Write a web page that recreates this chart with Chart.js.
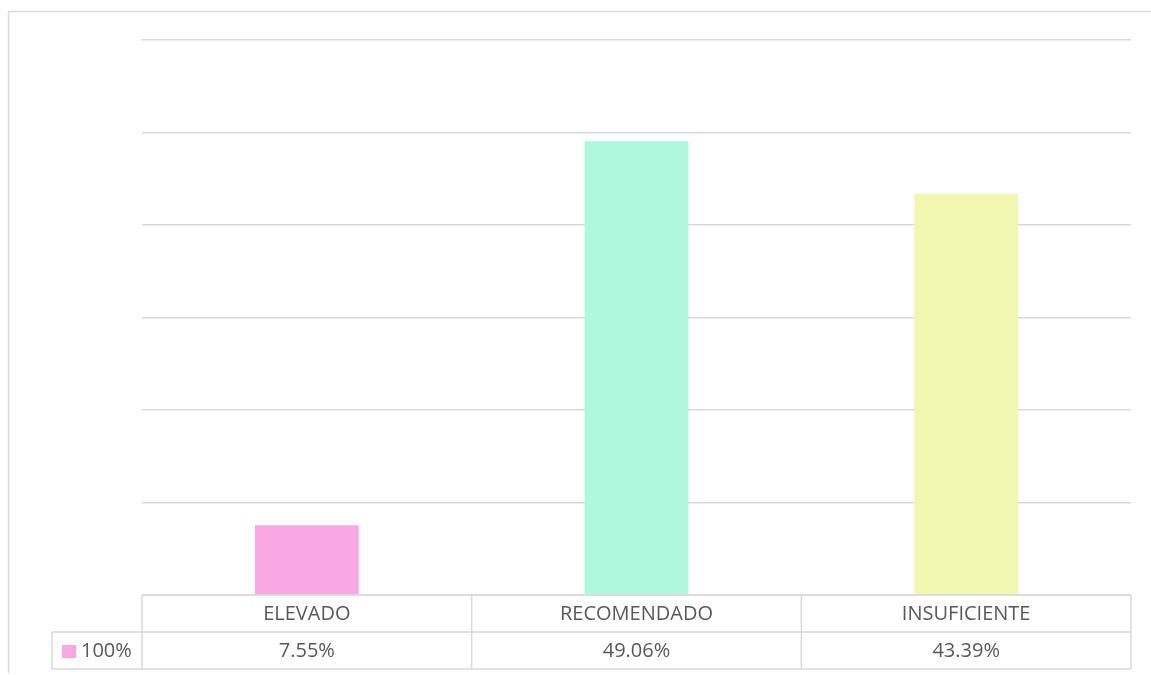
<!DOCTYPE html>
<html>
<head>
<meta charset="utf-8">
<script src="https://cdn.jsdelivr.net/npm/chart.js@4"></script>
<style>
  html, body { margin: 0; padding: 0; background: #fff; }
  #wrap { width: 1151px; height: 675px; }
</style>
</head>
<body>
<div id="wrap"><canvas id="chart" width="1151" height="675"></canvas></div>
<script>
const categories = ["ELEVADO", "RECOMENDADO", "INSUFICIENTE"];
const values = [7.55, 49.06, 43.39];
const valueLabels = ["7.55%", "49.06%", "43.39%"];
const seriesName = "100%";
const barColors = ["#F9A8E3", "#AFF7DD", "#F2F7B0"];

const lineColor = "#d9d9d9";
const textColor = "#595959";
const font = "20px 'Open Sans', sans-serif";

// outer frame + data table under the plot
const tablePlugin = {
  id: "dataTable",
  afterDraw(chart) {
    const ctx = chart.ctx;
    const x = chart.scales.x;
    const area = chart.chartArea;
    const rowH = 37;
    const top = area.bottom;
    const mid = top + rowH;
    const bot = mid + rowH;
    const keyLeft = 52;
    const half = (x.getPixelForValue(1) - x.getPixelForValue(0)) / 2;
    const colEdges = [x.getPixelForValue(0) - half];
    categories.forEach((c, i) => colEdges.push(x.getPixelForValue(i) + half));

    ctx.save();
    ctx.strokeStyle = lineColor;
    ctx.lineWidth = 1.5;

    // frame
    ctx.beginPath();
    ctx.moveTo(1160, 11.5);
    ctx.lineTo(8.5, 11.5);
    ctx.lineTo(8.5, 673);
    ctx.stroke();

    ctx.beginPath();
    ctx.moveTo(colEdges[0], top);
    ctx.lineTo(colEdges[colEdges.length - 1], top);
    ctx.moveTo(keyLeft, mid);
    ctx.lineTo(colEdges[colEdges.length - 1], mid);
    ctx.moveTo(keyLeft, bot);
    ctx.lineTo(colEdges[colEdges.length - 1], bot);
    ctx.moveTo(keyLeft, mid);
    ctx.lineTo(keyLeft, bot);
    colEdges.forEach(e => {
      ctx.moveTo(e, top);
      ctx.lineTo(e, bot);
    });
    ctx.stroke();

    ctx.fillStyle = textColor;
    ctx.font = font;
    ctx.textAlign = "center";
    ctx.textBaseline = "middle";
    categories.forEach((c, i) => {
      const cx = x.getPixelForValue(i);
      ctx.fillText(c, cx, top + rowH / 2 + 1);
      ctx.fillText(valueLabels[i], cx, mid + rowH / 2 + 1);
    });

    // legend key
    ctx.fillStyle = barColors[0];
    ctx.fillRect(62, mid + 13, 14, 13);
    ctx.fillStyle = textColor;
    ctx.textAlign = "left";
    ctx.fillText(seriesName, 81, mid + rowH / 2 + 1);
    ctx.restore();
  }
};

new Chart(document.getElementById("chart"), {
  type: "bar",
  data: {
    labels: categories,
    datasets: [{
      label: seriesName,
      data: values,
      backgroundColor: barColors,
      borderWidth: 0,
      categoryPercentage: 1,
      barPercentage: 0.315
    }]
  },
  options: {
    responsive: false,
    animation: false,
    layout: { padding: { left: 142, right: 20, top: 40, bottom: 80 } },
    plugins: {
      legend: { display: false },
      tooltip: { enabled: false }
    },
    scales: {
      x: {
        display: false
      },
      y: {
        min: 0,
        max: 60,
        ticks: { display: false, stepSize: 10 },
        border: { display: false },
        grid: { color: lineColor, lineWidth: 1.5, drawTicks: false }
      }
    }
  },
  plugins: [tablePlugin]
});
</script>
</body>
</html>
